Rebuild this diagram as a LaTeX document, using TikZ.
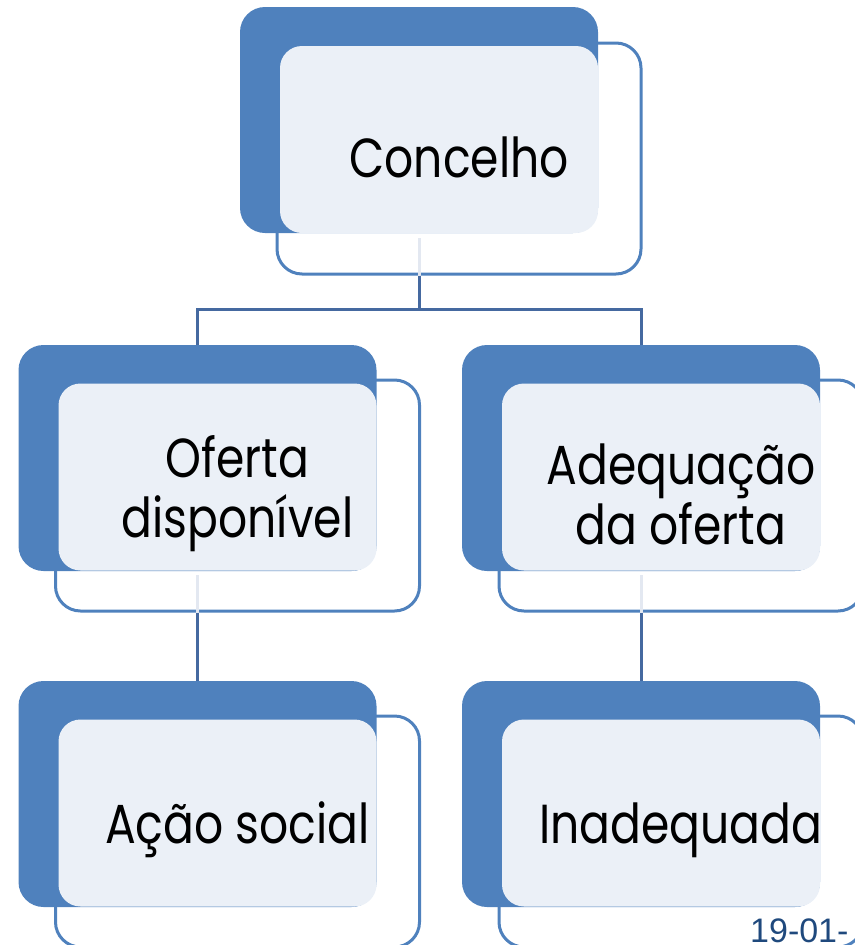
\documentclass[tikz,border=0pt]{standalone}
\usepackage{fontspec}
\setmainfont[FakeStretch=0.83]{Poppins}
\newfontfamily\datefont{Liberation Sans}
\definecolor{boxblue}{HTML}{4F81BD}
\definecolor{boxlight}{HTML}{EBF0F7}
\definecolor{linkblue}{HTML}{4569A0}
\definecolor{linkfaint}{HTML}{E3E8F1}
\definecolor{datecol}{HTML}{1F497D}

\begin{document}
\begin{tikzpicture}[x=1pt,y=-1pt,
  back/.style={fill=boxblue,rounded corners=25pt,minimum width=358pt,minimum height=226pt,inner sep=0pt},
  shade/.style={fill=boxlight,rounded corners=22pt,minimum width=318pt,minimum height=187pt,inner sep=0pt},
  frame/.style={draw=boxblue,line width=3pt,rounded corners=25pt,minimum width=364pt,minimum height=231pt,inner sep=0pt},
  lbl/.style={align=center,font=\fontsize{55}{60}\selectfont},
  conn/.style={draw=linkblue,line width=3pt},
  faint/.style={draw=linkfaint,line width=3pt}]

  \useasboundingbox (0,0) rectangle (854,945);

  % top
  \node[back] (conc) at (419,120) {};
  \node[shade] (conc-s) at (439,139.5) {};
  \node[frame] (conc-o) at (459,158.5) {};
  \node[lbl] (conc-t) at (459,157) {Concelho};

  % middle row
  \node[back] (ofe) at (197.5,458) {};
  \node[shade] (ofe-s) at (217.5,477) {};
  \node[frame] (ofe-o) at (237.5,495.5) {};
  \node[lbl] (ofe-t) at (237.5,494) {Oferta\\disponível};

  \node[back] (ade) at (641,458) {};
  \node[shade] (ade-s) at (661,477) {};
  \node[frame] (ade-o) at (681,495.5) {};
  \node[lbl] (ade-t) at (681,494) {Adequação\\da oferta};

  % bottom row
  \node[back] (aca) at (197.5,794) {};
  \node[shade] (aca-s) at (217.5,813) {};
  \node[frame] (aca-o) at (237.5,831.5) {};
  \node[lbl] (aca-t) at (237.5,830) {Ação social};

  \node[back] (ina) at (641,794) {};
  \node[shade] (ina-s) at (661,813) {};
  \node[frame] (ina-o) at (681,831.5) {};
  \node[lbl] (ina-t) at (681,830) {Inadequada};

  % links
  \draw[faint] ([yshift=-5pt]conc.south) -- (conc.south |- conc-o.south);
  \draw[conn] (conc.south |- conc-o.south) -- ++(0,34) -| (ofe.north);
  \draw[conn] (conc.south |- conc-o.south) -- ++(0,34) -| (ade.north);

  \draw[faint] ([yshift=-4pt]ofe.south) -- (ofe.south |- ofe-o.south);
  \draw[conn] (ofe.south |- ofe-o.south) -- (aca.north);
  \draw[faint] ([yshift=-4pt]ade.south) -- (ade.south |- ade-o.south);
  \draw[conn] (ade.south |- ade-o.south) -- (ina.north);

  \node[anchor=base west,text=datecol,font=\datefont\fontsize{34}{38}\selectfont,inner sep=0pt] (date) at (750,942) {19-01-};
\end{tikzpicture}
\end{document}
